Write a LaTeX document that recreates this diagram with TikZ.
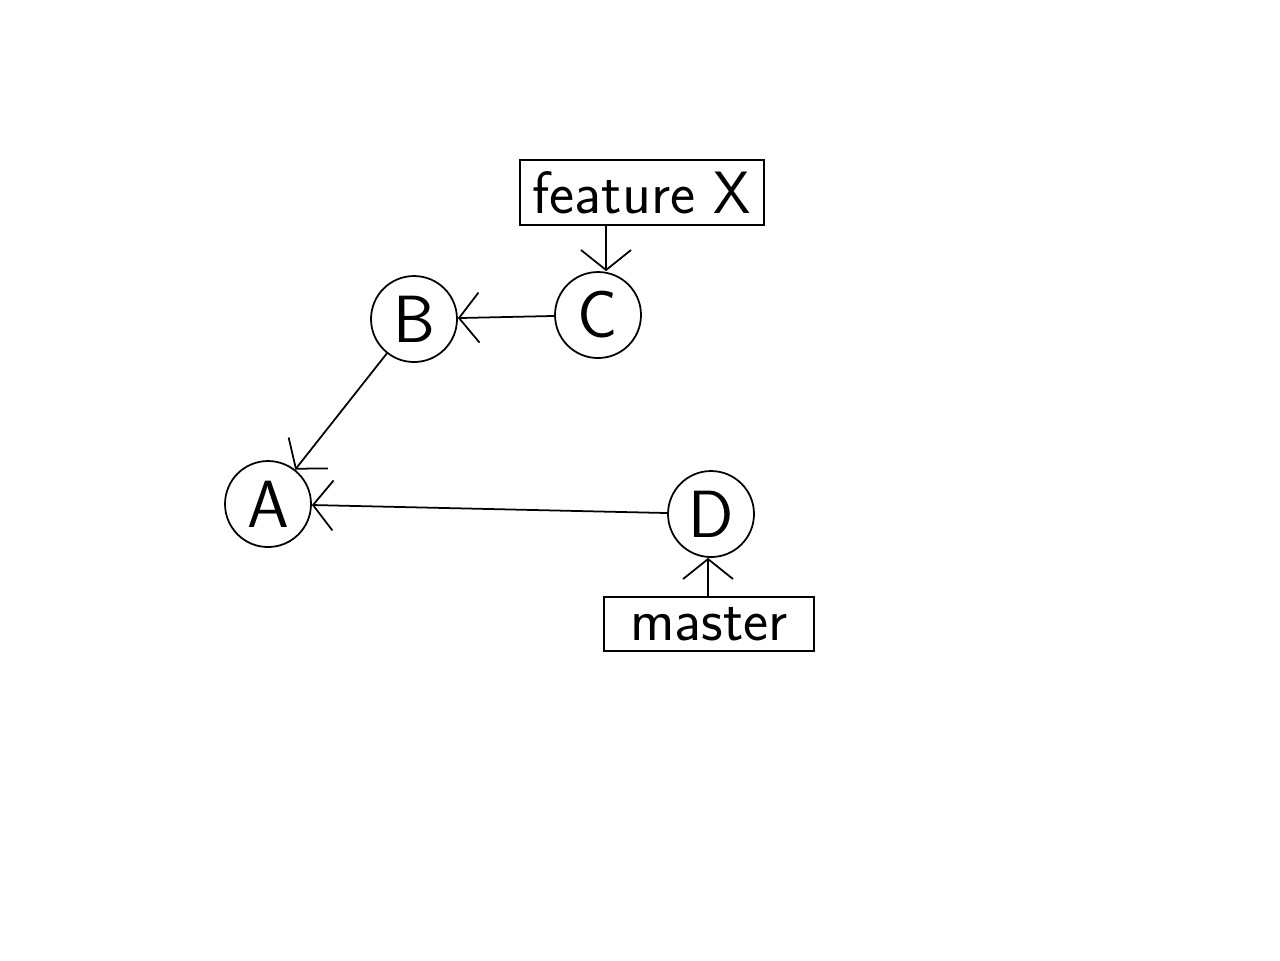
\documentclass[tikz,border=0pt]{standalone}
\usepackage{tikz}
\usetikzlibrary{arrows.meta}
\tikzset{commit/.style={circle,draw,line width=0.5pt,inner sep=0mm,minimum size=0.86cm,font=\sffamily\fontsize{19}{22}\selectfont}}
\tikzset{branch/.style={rectangle,draw,line width=0.5pt,inner sep=0mm,font=\sffamily\fontsize{17}{20}\selectfont}}
\tikzset{parent/.style={line width=0.5pt,-{Straight Barb[length=2mm,width=5mm]}}}

\begin{document}
\begin{tikzpicture}[scale=1]
\useasboundingbox (0,0) rectangle (12.8,-9.6);
%
\node[commit] (A) at (2.68,-5.04) {A};
\node[commit] (B) at (4.14,-3.19) {B};
\node[commit] (C) at (5.98,-3.15) {C};
\node[commit] (D) at (7.11,-5.14) {D};
%
\node[branch,minimum width=2.44cm,minimum height=0.65cm] (fx) at (6.42,-1.925) {feature X};
\node[branch,minimum width=2.10cm,minimum height=0.54cm] (ms) at (7.09,-6.24) {master};
%
\draw[parent] (C) -- (B);
\draw[parent] (B) -- (A);
\draw[parent] (D) -- (A);
%
\draw[parent] ([xshift=0.08cm]fx.south -| C) -- ([xshift=0.08cm]C.north);
\draw[parent] ([xshift=-0.03cm]ms.north -| D) -- ([xshift=-0.03cm]D.south);
\end{tikzpicture}
\end{document}
